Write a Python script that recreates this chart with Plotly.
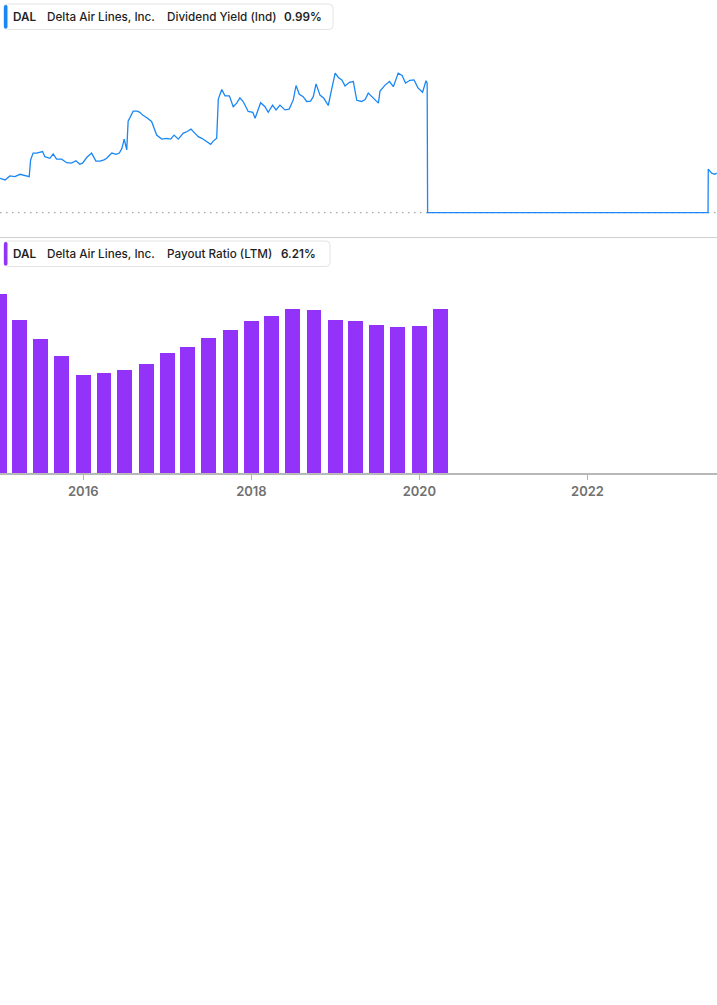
import plotly.graph_objects as go

# ---------------- data ----------------
yield_dates = [
    "2015-01-04", "2015-01-26", "2015-02-16", "2015-03-10", "2015-04-01", "2015-04-22",
    "2015-05-11", "2015-05-17", "2015-05-28", "2015-06-12", "2015-06-27", "2015-07-08",
    "2015-07-18", "2015-08-09", "2015-08-23", "2015-09-07", "2015-09-29", "2015-10-21",
    "2015-11-11", "2015-11-30", "2015-12-17", "2015-12-29",
    "2016-01-16", "2016-02-06", "2016-02-25", "2016-03-14", "2016-03-31", "2016-04-12",
    "2016-05-04", "2016-05-23", "2016-06-06", "2016-06-17", "2016-06-27", "2016-07-08",
    "2016-07-14", "2016-07-25", "2016-08-05", "2016-08-23", "2016-09-03", "2016-09-15",
    "2016-10-02", "2016-10-24", "2016-11-15", "2016-12-07", "2016-12-28",
    "2017-01-15", "2017-01-30", "2017-02-17", "2017-03-11", "2017-03-28", "2017-04-13",
    "2017-04-30", "2017-05-15", "2017-05-30", "2017-06-17", "2017-07-08", "2017-07-19",
    "2017-08-03", "2017-08-10", "2017-08-25", "2017-09-08", "2017-09-27", "2017-10-14",
    "2017-10-29", "2017-11-12", "2017-11-26", "2017-12-18",
    "2018-01-07", "2018-01-17", "2018-01-31", "2018-02-10", "2018-03-01", "2018-03-15",
    "2018-04-03", "2018-04-18", "2018-05-05", "2018-05-27", "2018-06-14", "2018-07-02",
    "2018-07-14", "2018-07-28", "2018-08-14", "2018-08-29", "2018-09-15", "2018-09-27",
    "2018-10-09", "2018-10-26", "2018-11-12", "2018-12-01", "2018-12-16", "2018-12-31",
    "2019-01-14", "2019-01-29", "2019-02-12", "2019-03-03", "2019-03-20", "2019-04-04",
    "2019-04-25", "2019-05-10", "2019-05-24", "2019-06-08", "2019-06-22", "2019-07-07",
    "2019-07-14", "2019-08-05", "2019-08-24", "2019-09-10", "2019-10-01", "2019-10-18",
    "2019-11-02", "2019-11-21", "2019-12-09", "2019-12-26",
    "2020-01-15", "2020-01-30", "2020-02-04", "2020-02-06",
    "2023-06-09", "2023-06-10", "2023-06-25", "2023-07-09", "2023-07-17",
]
yield_values = [
    0.86, 0.82, 0.92, 0.90, 0.96, 0.93,
    0.90, 1.32, 1.49, 1.49, 1.51, 1.53,
    1.40, 1.36, 1.47, 1.34, 1.34, 1.25,
    1.24, 1.30, 1.21, 1.24,
    1.38, 1.49, 1.29, 1.29, 1.32, 1.36,
    1.49, 1.46, 1.49, 1.61, 1.84, 1.57,
    2.29, 2.40, 2.54, 2.54, 2.51, 2.44,
    2.38, 2.28, 1.94, 1.84, 1.86,
    1.84, 1.94, 1.84, 1.99, 2.03, 2.09,
    1.99, 1.90, 1.86, 1.78, 1.71, 1.79,
    1.86, 2.84, 3.08, 2.92, 2.92, 2.65,
    2.74, 2.87, 2.78, 2.53,
    2.51, 2.36, 2.57, 2.75, 2.65, 2.51,
    2.69, 2.57, 2.69, 2.57, 2.59, 2.82,
    3.18, 2.96, 2.90, 2.78, 2.79, 2.90,
    3.22, 2.94, 2.86, 2.68, 3.09, 3.49,
    3.38, 3.32, 3.17, 3.26, 3.28, 2.81,
    2.78, 2.83, 2.99, 2.90, 2.82, 2.74,
    3.04, 3.19, 3.28, 3.15, 3.49, 3.43,
    3.24, 3.31, 3.32, 3.12,
    3.01, 3.30, 3.24, 0.00,
    0.00, 1.09, 0.99, 0.96, 0.99,
]

payout_dates = [
    "2014-12-31", "2015-03-31", "2015-06-30", "2015-09-30",
    "2015-12-31", "2016-03-31", "2016-06-30", "2016-09-30",
    "2016-12-31", "2017-03-31", "2017-06-30", "2017-09-30",
    "2017-12-31", "2018-03-31", "2018-06-30", "2018-09-30",
    "2018-12-31", "2019-03-31", "2019-06-30", "2019-09-30",
    "2019-12-31", "2020-03-31",
]
payout_values = [
    26.9, 23.0, 20.1, 17.6,
    14.7, 15.0, 15.5, 16.4,
    18.0, 19.0, 20.3, 21.5,
    22.9, 23.6, 24.6, 24.5,
    23.0, 22.8, 22.2, 22.0,
    22.1, 24.7,
]

tick_vals = ["2016-01-01", "2018-01-01", "2020-01-01", "2022-01-01"]
tick_text = ["2016", "2018", "2020", "2022"]

ticker = "DAL"
company = "Delta Air Lines, Inc."
metric_top = "Dividend Yield (Ind)"
metric_top_value = "0.99%"
metric_bottom = "Payout Ratio (LTM)"
metric_bottom_value = "6.21%"

# ---------------- layout helpers ----------------
W, H = 717, 1005
BLUE = "#1a87f5"
PURPLE = "#9333fa"
FONT = "Inter"


def px_x(x):
    return x / W


def px_y(y):
    return 1 - y / H


x_range = ["2015-01-04", "2023-07-18"]

fig = go.Figure()

fig.add_trace(go.Scatter(
    x=yield_dates, y=yield_values, mode="lines",
    line=dict(color=BLUE, width=1.3), xaxis="x", yaxis="y",
    hoverinfo="skip", showlegend=False, cliponaxis=False,
))

fig.add_trace(go.Bar(
    x=payout_dates, y=payout_values, marker=dict(color=PURPLE, line=dict(width=0)),
    width=65 * 86400000, xaxis="x2", yaxis="y2",
    hoverinfo="skip", showlegend=False,
))

top_t, top_b = 40, 220
bot_t, bot_b = 275, 473.3

fig.update_layout(
    width=W, height=H, autosize=False,
    margin=dict(l=0, r=0, t=0, b=0),
    paper_bgcolor="white", plot_bgcolor="white",
    font=dict(family=FONT, color="#1f1f1f"),
    xaxis=dict(domain=[0, 1], range=x_range, type="date", showticklabels=False,
               showgrid=False, zeroline=False, showline=False, ticks=""),
    yaxis=dict(domain=[px_y(top_b), px_y(top_t)], range=[-(top_b - 212.7) / 40, (212.7 - top_t) / 40],
               showticklabels=False, showgrid=False, zeroline=False, showline=False),
    xaxis2=dict(domain=[0, 1], range=x_range, type="date", anchor="y2",
                tickmode="array", tickvals=tick_vals, ticktext=tick_text,
                showgrid=False, zeroline=False, showline=True, linecolor="#b8b8b8",
                linewidth=2, ticks="outside", ticklen=5, tickwidth=1, tickcolor="#b0b0b0",
                tickfont=dict(family=FONT, size=13, color="#707070", weight=600)),
    yaxis2=dict(domain=[px_y(bot_b), px_y(bot_t)], range=[0, (bot_b - bot_t) / 6.667], anchor="x2",
                showticklabels=False, showgrid=False, zeroline=False, showline=False),
    bargap=0,
    hovermode=False,
)

shapes = []
# zero baseline (dotted) of top panel
shapes.append(dict(type="line", xref="paper", yref="y", x0=0, x1=1, y0=0, y1=0,
                   line=dict(color="#909090", width=1, dash="1.5px,4.5px"), layer="below"))
# separator
shapes.append(dict(type="line", xref="paper", yref="paper", x0=0, x1=1,
                   y0=px_y(237.5), y1=px_y(237.5), line=dict(color="#cfcfcf", width=1)))


def rounded_box(x0, y0, x1, y1, r=4):
    rx, ry = r / W, r / H
    X0, X1 = px_x(x0), px_x(x1)
    Y0, Y1 = px_y(y0), px_y(y1)  # Y0 top (larger), Y1 bottom
    path = (f"M {X0+rx},{Y0} L {X1-rx},{Y0} Q {X1},{Y0} {X1},{Y0-ry} "
            f"L {X1},{Y1+ry} Q {X1},{Y1} {X1-rx},{Y1} L {X0+rx},{Y1} "
            f"Q {X0},{Y1} {X0},{Y1+ry} L {X0},{Y0-ry} Q {X0},{Y0} {X0+rx},{Y0} Z")
    return dict(type="path", xref="paper", yref="paper", path=path,
                fillcolor="white", line=dict(color="#e4e4e4", width=1))


def legend(y0, y1, x1, color, metric, value, vx):
    shapes.append(rounded_box(3.5, y0, x1, y1))
    shapes.append(rounded_box(4, y0 + 1, 7.5, y1 - 1, r=1.5) | dict(fillcolor=color, line=dict(width=0)))
    yc = px_y((y0 + y1) / 2)
    items = [(11, ticker, 600), (45, company, 500), (165, metric, 500), (vx - 2, value, 600)]
    for xx, txt, wgt in items:
        fig.add_annotation(x=px_x(xx), y=yc, xref="paper", yref="paper", text=txt,
                           showarrow=False, xanchor="left", yanchor="middle",
                           font=dict(family=FONT, size=11.7, color="#1f1f1f", weight=wgt))


legend(4, 29.5, 333, BLUE, metric_top, metric_top_value, 284)
legend(241, 266.5, 330, PURPLE, metric_bottom, metric_bottom_value, 281)

fig.update_layout(shapes=shapes)

fig.write_html("out.html", config={"displayModeBar": False},
               post_script="document.body.style.margin='0';")
